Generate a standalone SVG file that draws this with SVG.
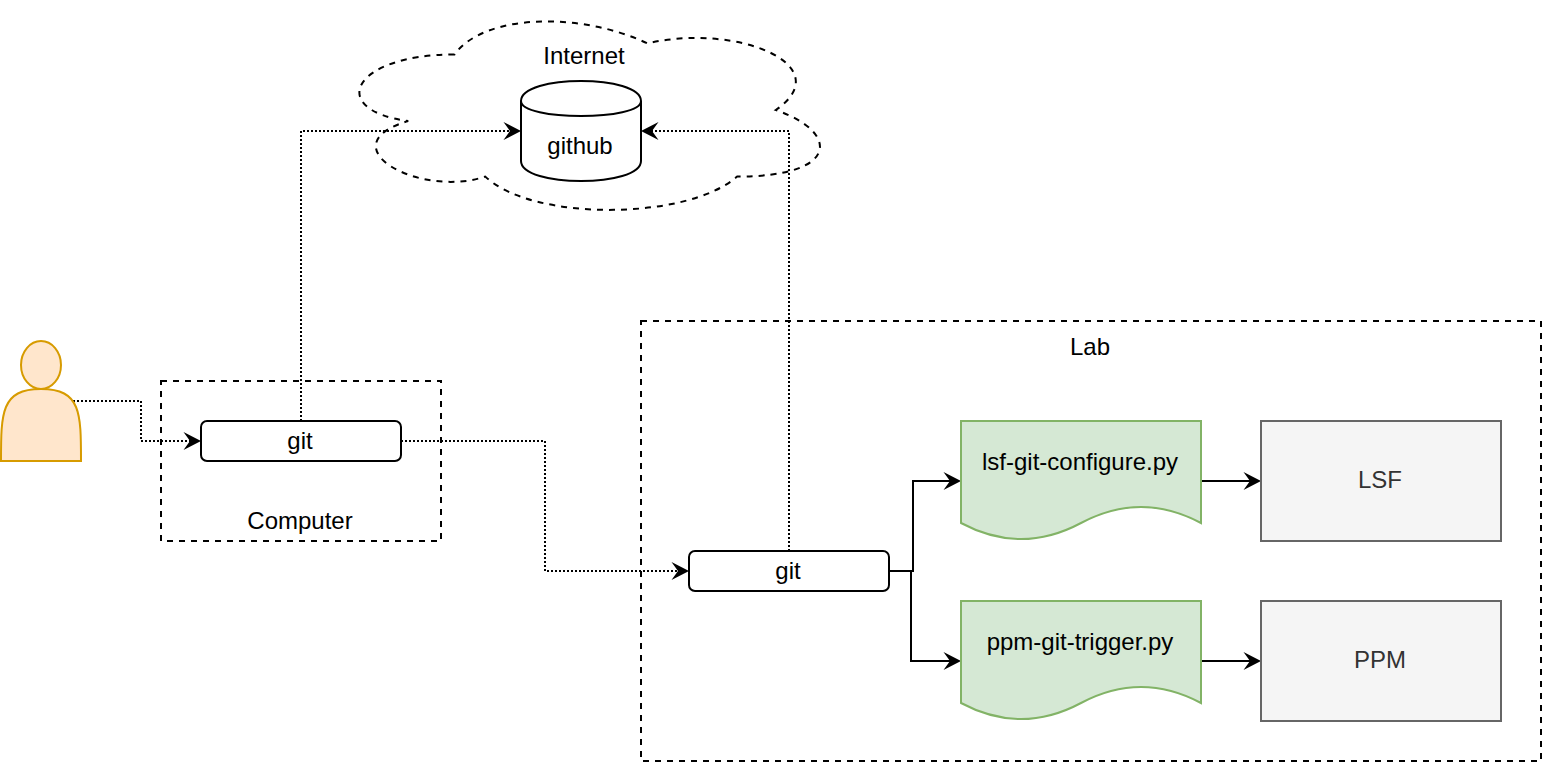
<svg xmlns="http://www.w3.org/2000/svg" width="1542" height="762" viewBox="0 0 1542 762">
<style>
text{font-family:"Liberation Sans",Arial,sans-serif;font-size:24px;fill:#000;text-anchor:middle}
.box{fill:none;stroke:#000;stroke-width:2;stroke-dasharray:6 6}
.w{fill:#fff;stroke:#000;stroke-width:2}
.doc{fill:#d5e8d4;stroke:#82b366;stroke-width:2}
.grey{fill:#f5f5f5;stroke:#666;stroke-width:2}
.grey+text{fill:#333}
.dot{fill:none;stroke:#000;stroke-width:2;stroke-dasharray:2 2;marker-end:url(#a)}
.sol{fill:none;stroke:#000;stroke-width:2;marker-end:url(#a)}
</style>
<defs>
<marker id="a" markerUnits="userSpaceOnUse" markerWidth="20" markerHeight="20" refX="10" refY="10" orient="auto" viewBox="0 0 20 20">
<path d="M18 10L0.500 19L7 10L0.500 1Z" fill="#000"/>
</marker>
</defs>
<g id="internet">
<path class="box" d="M454.500 54.500C351.700 54.500 326 110 408.200 121C326 145.500 418.500 198.800 485.300 176.600C531.600 221 685.800 221 737.200 176.600C840 176.600 840 132.200 775.800 110C840 65.600 737.200 22.500 647.300 43.400C583 12.500 485 12.500 454.500 54.500Z"/>
<text x="584" y="64">Internet</text>
</g>
<g id="computer"><rect class="box" x="161" y="381" width="280" height="160"/><text x="300" y="529">Computer</text></g>
<g id="lab"><rect class="box" x="641" y="321" width="900" height="440"/><text x="1090" y="355">Lab</text></g>
<g id="connectors">
<path class="dot" d="M73 401H141V441H193"/>
<path class="dot" d="M301 421V131H513"/>
<path class="dot" d="M401 441H545V571H681"/>
<path class="dot" d="M789 551V131H649"/>
<path class="sol" d="M889 571H913V481H953"/>
<path class="sol" d="M889 571H911V661H953"/>
<path class="sol" d="M1201 481H1253"/>
<path class="sol" d="M1201 661H1253"/>
</g>
<g id="github">
<path class="w" d="M521 101C521 74.300 641 74.300 641 101V161C641 187.700 521 187.700 521 161Z"/>
<path class="w" fill="none" d="M521 101C521 121 641 121 641 101"/>
<text x="580" y="154">github</text>
</g>
<g id="person"><path d="M1 461C1 413 1 389 41 389C81 389 81 413 81 461Z" fill="#ffe6cc" stroke="#d79b00" stroke-width="2"/><ellipse cx="41" cy="365" rx="20" ry="24" fill="#ffe6cc" stroke="#d79b00" stroke-width="2"/></g>
<g id="git1"><rect class="w" x="201" y="421" width="200" height="40" rx="6"/><text x="300" y="449">git</text></g>
<g id="git2"><rect class="w" x="689" y="551" width="200" height="40" rx="6"/><text x="788" y="579">git</text></g>
<g id="lsf-script"><path class="doc" d="M961 421H1201V523Q1141 491 1081 523Q1021 555 961 523Z"/><text x="1080" y="470">lsf-git-configure.py</text></g>
<g id="ppm-script"><path class="doc" d="M961 601H1201V703Q1141 671 1081 703Q1021 735 961 703Z"/><text x="1080" y="650">ppm-git-trigger.py</text></g>
<g id="lsf"><rect class="grey" x="1261" y="421" width="240" height="120"/><text x="1380" y="488">LSF</text></g>
<g id="ppm"><rect class="grey" x="1261" y="601" width="240" height="120"/><text x="1380" y="668">PPM</text></g>
</svg>
